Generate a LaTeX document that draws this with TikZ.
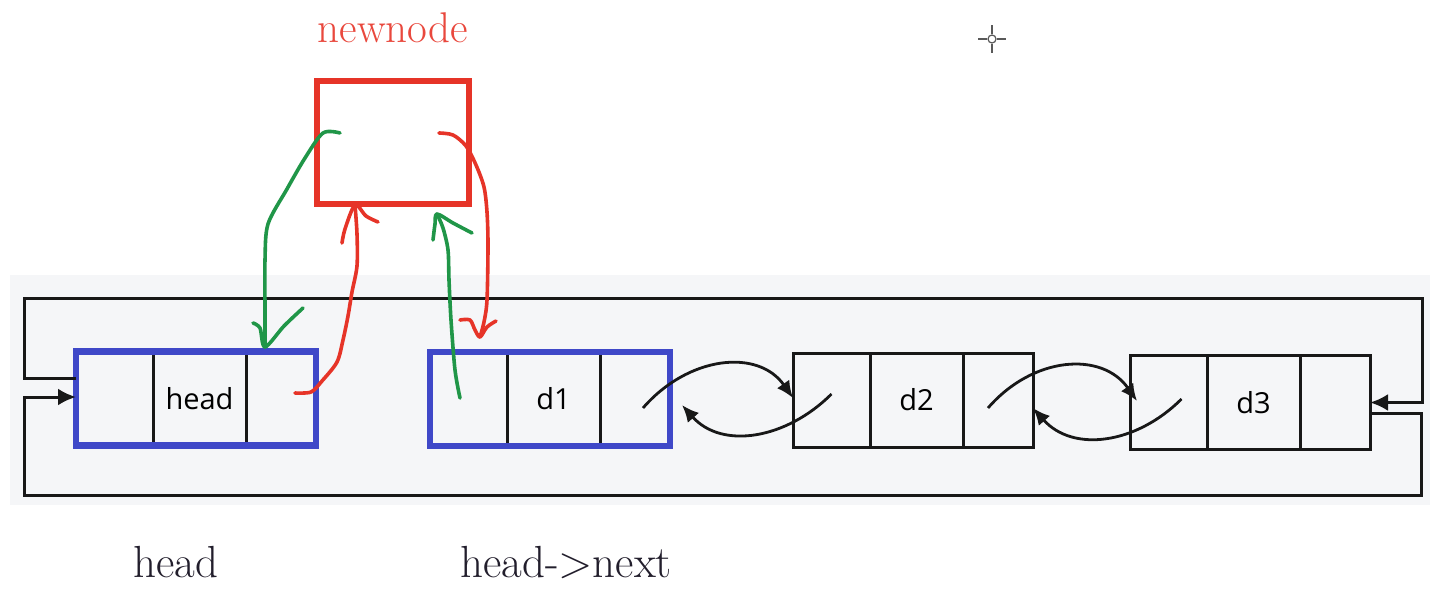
\documentclass[tikz,border=0pt]{standalone}
\usepackage{fontspec}
\newfontfamily\cellfont{Open Sans}
\usetikzlibrary{arrows.meta, positioning}
\definecolor{nred}{RGB}{230,52,40}
\definecolor{ngreen}{RGB}{32,150,72}
\definecolor{nblue}{RGB}{63,72,200}
\definecolor{panel}{RGB}{245,246,248}
\definecolor{ink}{RGB}{24,24,24}
\definecolor{capt}{RGB}{34,30,44}

\begin{document}
\begin{tikzpicture}[x=1pt, y=-1pt, cell/.style={draw=ink, line width=3pt, outer sep=0pt, inner sep=0pt, minimum height=94pt, font=\cellfont\fontsize{29}{32}\selectfont}, link/.style={draw=ink, line width=3pt, -{Latex[length=18pt,width=17pt]}}, ptr/.style={ink, line width=2.8pt, -{Latex[length=17pt,width=15pt]}}, pen/.style={line width=3.6pt, line cap=round, line join=round}, hilite/.style={draw=nblue, line width=6.5pt}, caption/.style={font=\fontsize{45}{48}\selectfont, text=capt, anchor=base}, cursor/.style={draw=black!65, line width=1.8pt}]

\fill[white] (0,0) rectangle (1440,603); \useasboundingbox (0,0) rectangle (1440,603);
\fill[panel] (10,275) rectangle (1430,505);

\foreach \n/\x/\y/\t in {hd/76/398.5/head, d1/430/399/d1, d2/793/400/d2, d3/1130/402.5/d3} {\node[cell, minimum width=77pt, anchor=west] (\n-p) at (\x,\y) {}; \node[cell, minimum width=93pt, right=0pt of \n-p] (\n-d) {\t}; \node[cell, minimum width=70pt, right=0pt of \n-d] (\n-n) {};}
\draw[hilite] (hd-p.north west) rectangle (hd-n.south east); \draw[hilite] (d1-p.north west) rectangle (d1-n.south east);

\draw[link] ([yshift=20.5pt]hd-p.west) -- ++(-52,0) |- (1422,298) |- (d3-n.east);
\draw[link] ([yshift=-10.5pt]d3-n.east) -- ++(51,0) |- (24,495) |- ([yshift=1.5pt]hd-p.west);

\draw[ptr] ([xshift=8pt,yshift=-9pt]d1-n.center) .. controls +(45,-52) and +(-35,-50) .. ([yshift=2pt]d2-p.west);
\draw[ptr] ([yshift=6pt]d2-p.center) .. controls +(-45,45) and +(40,45) .. ([xshift=12pt,yshift=-6pt]d1-n.east);
\draw[ptr] ([xshift=-10pt,yshift=-8pt]d2-n.center) .. controls +(45,-52) and +(-35,-50) .. ([xshift=7pt,yshift=1.5pt]d3-p.west);
\draw[ptr] ([xshift=13pt,yshift=3.5pt]d3-p.center) .. controls +(-45,45) and +(40,45) .. ([yshift=-8pt]d2-n.east);

\node[draw=nred, line width=5.5pt, minimum width=152pt, minimum height=123pt, inner sep=0pt, outer sep=0pt] (nn) at (393,142.5) {};
\node[caption, text=nred!90!white, font=\fontsize{43}{46}\selectfont] (nn-title) at (393,42) {newnode};

\coordinate (g1-s) at (340,133); \coordinate (g1-e) at (265,347); \coordinate (r1-s) at (295,393); \coordinate (r1-e) at (355,205);
\coordinate (g2-s) at (460,398); \coordinate (g2-e) at (437,214); \coordinate (r2-s) at (439,133); \coordinate (r2-e) at (480,337);
\draw[pen, ngreen] plot[smooth, tension=0.5] coordinates {(g1-s) (323,133) (305,158) (287,189) (268,224) (265,260) (265,310) (g1-e)};
\draw[pen, ngreen] plot[smooth, tension=0.5] coordinates {(253,323) (260,328) (g1-e) (284,326) (303,308)};
\draw[pen, nred] plot[smooth, tension=0.5] coordinates {(r1-s) (311,392) (322,381) (337,362) (343,340) (348,316) (352,292) (357,266) (357,234) (r1-e)};
\draw[pen, nred] plot[smooth, tension=0.5] coordinates {(342,243) (345,229) (r1-e) (366,216) (378,222)};
\draw[pen, ngreen] plot[smooth, tension=0.5] coordinates {(g2-s) (455,370) (451,320) (449,280) (448,250) (443,228) (g2-e)};
\draw[pen, ngreen] plot[smooth, tension=0.5] coordinates {(433,240) (435,224) (g2-e) (453,223) (472,233)};
\draw[pen, nred] plot[smooth, tension=0.5] coordinates {(r2-s) (453,135) (466,146) (476,165) (484,187) (487,212) (488,245) (487,300) (484,322) (r2-e)};
\draw[pen, nred] plot[smooth, tension=0.5] coordinates {(460,320) (470,320) (475,330) (r2-e) (487,327) (496,321)};

\node[caption] (hd-cap) at (176,577) {head}; \node[caption] (d1-cap) at (566,577) {head->next};

\draw[cursor] (978,39) -- (987,39) (997,39) -- (1006,39) (992,25) -- (992,34) (992,44) -- (992,53); \draw[cursor, line width=1.2pt] (992,39) circle (4);
\end{tikzpicture}
\end{document}
